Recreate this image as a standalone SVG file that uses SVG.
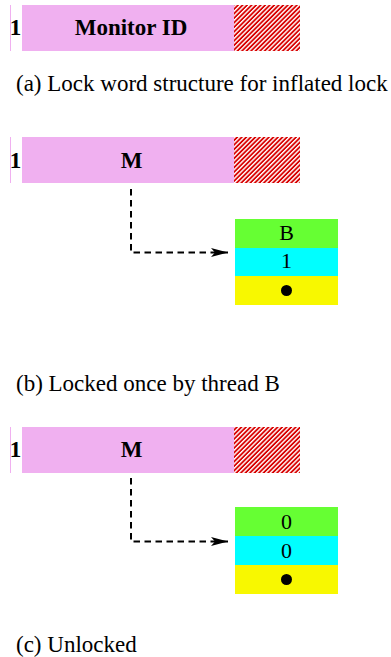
<svg xmlns="http://www.w3.org/2000/svg" width="391" height="657" viewBox="0 0 391 657">
<style>
.pink{fill:#f0b0f0}
.hatch{fill:url(#hatch)}
.b{font-family:"Liberation Serif","Times New Roman",serif;font-weight:bold;font-size:23px;fill:#000}
.t{font-family:"Liberation Serif","Times New Roman",serif;font-size:22px;fill:#000}
.cap{font-family:"Liberation Serif","Times New Roman",serif;font-size:23px;fill:#000}
.conn{fill:none;stroke:#000;stroke-width:2;stroke-dasharray:6.5 4.5}
.g{fill:#66ff33}.c{fill:#00ffff}.y{fill:#f8f800}
</style>
<defs>
<pattern id="hatch" patternUnits="userSpaceOnUse" width="3.2" height="3.2" patternTransform="rotate(45)">
<rect width="3.2" height="3.2" fill="#d80000"/>
<rect width="1.4" height="3.2" fill="#ffffff"/>
</pattern>
<marker id="arr" markerUnits="userSpaceOnUse" markerWidth="18" markerHeight="10" refX="17" refY="5" orient="auto">
<path d="M0,0.5 L17,5 L0,9.5 L4,5 z" fill="#000"/>
</marker>
</defs>

<g id="wordA">
<rect x="10" y="5" width="1" height="46" class="pink"/>
<rect x="22" y="5" width="212" height="46" class="pink"/>
<rect x="234" y="5" width="66" height="46" class="hatch"/>
<text x="15.5" y="34.5" class="b" text-anchor="middle">1</text>
<text x="131" y="34.5" class="b" text-anchor="middle">Monitor ID</text>
</g>
<text id="capA" x="16" y="91" class="cap">(a) Lock word structure for inflated lock</text>

<g id="wordB">
<rect x="10" y="137" width="1" height="46" class="pink"/>
<rect x="22" y="137" width="212" height="46" class="pink"/>
<rect x="234" y="137" width="66" height="46" class="hatch"/>
<text x="15.5" y="167.5" class="b" text-anchor="middle">1</text>
<text x="131.5" y="167.5" class="b" text-anchor="middle">M</text>
</g>
<g id="monitorB">
<rect x="235" y="219" width="103" height="29" class="g"/>
<rect x="235" y="248" width="103" height="28" class="c"/>
<rect x="235" y="276" width="103" height="29" class="y"/>
<text x="286.5" y="239.5" class="t" text-anchor="middle">B</text>
<text x="286.5" y="268" class="t" text-anchor="middle">1</text>
<circle cx="286.5" cy="290.5" r="5.5" fill="#000"/>
</g>
<text id="capB" x="16" y="391" class="cap">(b) Locked once by thread B</text>

<g id="wordC">
<rect x="10" y="427" width="1" height="46" class="pink"/>
<rect x="22" y="427" width="212" height="46" class="pink"/>
<rect x="234" y="427" width="66" height="46" class="hatch"/>
<text x="15.5" y="456.5" class="b" text-anchor="middle">1</text>
<text x="131.5" y="456.5" class="b" text-anchor="middle">M</text>
</g>
<g id="monitorC">
<rect x="235" y="507" width="103" height="29" class="g"/>
<rect x="235" y="536" width="103" height="29" class="c"/>
<rect x="235" y="565" width="103" height="29" class="y"/>
<text x="286.5" y="528.5" class="t" text-anchor="middle">0</text>
<text x="286.5" y="557.5" class="t" text-anchor="middle">0</text>
<circle cx="286.5" cy="579.5" r="5.5" fill="#000"/>
</g>
<text id="capC" x="16" y="652" class="cap">(c) Unlocked</text>

<g id="connectors">
<path class="conn" d="M131,189 V252.5 H228" marker-end="url(#arr)"/>
<path class="conn" d="M131,478 V541.5 H228" marker-end="url(#arr)"/>
</g>
</svg>
